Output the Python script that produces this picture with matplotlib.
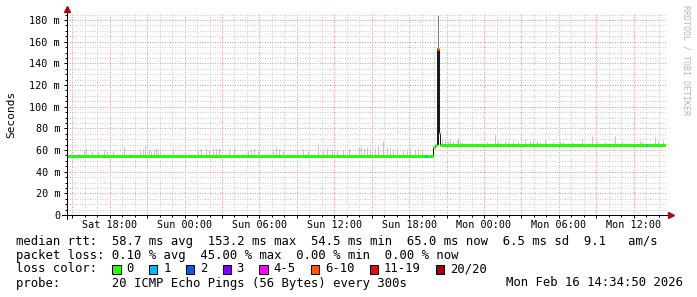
import numpy as np
import matplotlib
matplotlib.use("Agg")
import matplotlib.pyplot as plt
import matplotlib.dates as mdates
from matplotlib.patches import Rectangle
from matplotlib.ticker import MultipleLocator, FuncFormatter

plt.rcParams['font.family'] = ['DejaVu Sans Mono']

#%% Data (hours counted from Sat 14 Feb 2026 00:00, values in ms)
t_start_h = 14.58          # Sat 14:34:50
t_end_h = 62.58            # Mon 14:34:50

# median rtt, as steps: start hour, end hour, value, loss class
med_start = [14.58, 43.94, 44.10, 44.26, 44.42, 44.50]
med_end   = [43.94, 44.10, 44.26, 44.42, 44.50, 62.58]
med_val   = [54.7, 63.0, 64.6, 153.5, 76.0, 64.6]
med_loss  = [0, 0, 0, 5, 1, 0]

# single samples with one lost ping
loss1_h   = [43.30, 61.00]
loss1_val = [54.7, 64.6]

# smoke: sample hour, median under it, top of the smoke
smoke_h = [15.92, 16.08, 16.56, 17.04, 17.52, 17.76, 18.24, 19.12, 20.40, 20.64,
           20.80, 21.12, 21.28, 21.52, 21.68, 21.84, 22.00, 23.04, 25.05, 25.29,
           25.69, 25.93, 26.25, 26.49, 26.73, 27.53, 27.93, 29.05, 29.29, 29.53,
           29.85, 31.05, 31.29, 31.53, 31.85, 33.05, 33.53, 33.93, 34.73, 35.13,
           35.45, 35.85, 36.25, 36.73, 37.14, 37.94, 38.10, 38.34, 38.66, 38.90,
           39.30, 39.54, 39.94, 40.26, 40.50, 40.74, 41.06, 41.54, 41.86, 42.10,
           42.50, 42.74, 43.06,
           44.50, 44.66, 44.90, 45.14, 45.30, 45.54, 45.86, 45.94, 46.10, 46.26,
           48.26, 48.90, 49.14, 49.71, 49.95, 50.35, 50.75, 51.31, 51.71, 51.95,
           52.27, 52.51, 52.91, 53.55, 54.11, 54.35, 55.07, 55.87, 56.67, 57.07,
           57.71, 58.51, 59.07, 60.51, 60.67, 61.71, 61.95, 62.35]
smoke_top = [60, 62, 59, 59, 60, 59, 59, 63, 60, 61,
             65, 60, 59, 60, 62, 61, 60, 61, 60, 61,
             62, 60, 62, 61, 62, 60, 62, 60, 61, 62,
             60, 61, 63, 61, 60, 60, 61, 60, 66, 61,
             62, 60, 61, 60, 61, 63, 64, 62, 63, 61,
             62, 64, 68, 63, 62, 61, 62, 60, 61, 62,
             60, 61, 60,
             72, 71, 70, 68, 70, 68, 69, 71, 68, 67,
             67, 74, 68, 68, 67, 69, 68, 70, 68, 69,
             68, 67, 69, 67, 68, 67, 67, 70, 73, 68,
             67, 73, 68, 68, 67, 72, 68, 69]
smoke_base = [54.7] * 63 + [64.6] * 38

# the spike sample
spike_h = 44.34
spike_dense = (64.6, 153.5)
spike_max = 185.0

loss_colors = ['#26ff00', '#00b8ff', '#0059ff', '#7e00ff', '#ff00ff',
               '#ff5500', '#ff0000', '#a10000']
loss_labels = ['0', '1', '2', '3', '4-5', '6-10', '11-19', '20/20']

#%% helpers
base = np.datetime64('2026-02-14T00:00:00')
def h2d(h):
    h = np.asarray(h, dtype=float)
    return mdates.date2num(base + (h * 3600).astype('int64').astype('timedelta64[s]'))

W, H = 697, 297
fig = plt.figure(figsize=(W / 100, H / 100), dpi=100)
fig.patch.set_facecolor('white')
ax_l, ax_r, ax_t, ax_b = 67, 666, 13, 215
ax = fig.add_axes([ax_l / W, 1 - ax_b / H, (ax_r - ax_l) / W, (ax_b - ax_t) / H])

px = 0.72  # one pixel in points

# smoke
ax.vlines(h2d(smoke_h), smoke_base, smoke_top, color='#c4c4c4', lw=px, zorder=2)

# spike
ax.vlines(h2d([spike_h]), spike_dense[1], spike_max, color='#808080', lw=px, zorder=3)
ax.vlines(h2d([spike_h]), spike_dense[0], spike_dense[1], color='#1a1a1a', lw=2 * px, zorder=3)

# median connectors then median steps
for i in range(len(med_val) - 1):
    ax.vlines(h2d([med_end[i]]), min(med_val[i], med_val[i + 1]), max(med_val[i], med_val[i + 1]),
              color='#1a1a1a', lw=px, zorder=4)
for s, e, v, l in zip(med_start, med_end, med_val, med_loss):
    ax.hlines(v, h2d(s), h2d(e), color=loss_colors[l], lw=3 * px, zorder=5)
for h, v in zip(loss1_h, loss1_val):
    ax.hlines(v, h2d(h), h2d(h + 0.09), color=loss_colors[1], lw=3 * px, zorder=6)

ax.set_xlim(h2d(t_start_h), h2d(t_end_h))
ax.set_ylim(0, 186.5)

# axes styling
for sp in ax.spines.values():
    sp.set_visible(False)
ax.set_axisbelow(True)
ax.xaxis.set_major_locator(mdates.HourLocator(byhour=[0, 3, 6, 9, 12, 15, 18, 21]))
ax.xaxis.set_minor_locator(mdates.HourLocator())
ax.xaxis.set_major_formatter(FuncFormatter(
    lambda v, p: mdates.num2date(v).strftime('%a %H:%M') if mdates.num2date(v).hour % 6 == 0 else ''))
ax.yaxis.set_major_locator(MultipleLocator(20))
ax.yaxis.set_minor_locator(MultipleLocator(5))
ax.yaxis.set_major_formatter(FuncFormatter(lambda v, p: '0' if v == 0 else f'{v:.0f} m'))

ax.grid(which='major', color='#e99494', lw=px, linestyle=(0, (1, 1.5)))
ax.grid(which='minor', color='#cdcdcd', lw=px, linestyle=(0, (1, 1.5)))
ax.tick_params(axis='both', which='major', labelsize=7.3, color='black', width=px)
ax.tick_params(axis='y', which='major', length=3.5 * px, pad=2.5)
ax.tick_params(axis='y', which='minor', length=2 * px, width=px)
ax.tick_params(axis='x', which='major', length=3 * px, pad=1.5)
ax.tick_params(axis='x', which='minor', length=1.5 * px, width=px)

# axis lines with arrows
aw, ah = ax_r - ax_l, ax_b - ax_t
ax.plot([0, 0], [-4 / ah, (ax_b - 9) / ah], color='black', lw=px, transform=ax.transAxes, clip_on=False, zorder=7)
ax.plot([-5 / aw, (672 - ax_l) / aw], [0, 0], color='black', lw=px, transform=ax.transAxes, clip_on=False, zorder=7)
ax.plot([0], [(ax_b - 9) / ah], marker='^', ms=4.5, color='#a01010', mec='#a01010',
        transform=ax.transAxes, clip_on=False, zorder=8)
ax.plot([(671 - ax_l) / aw], [0], marker='>', ms=4.5, color='#a01010', mec='#a01010',
        transform=ax.transAxes, clip_on=False, zorder=8)

fig.text(11 / W, 1 - 114 / H, 'Seconds', rotation=90, ha='center', va='center', fontsize=8)
fig.text(686 / W, 1 - 60 / H, 'RRDTOOL / TOBI OETIKER', rotation=270, ha='center', va='center',
         fontsize=6, color='#b5b5b5')

#%% legend
fs = 8.8
cw = 0.602 * fs * 100 / 72   # monospace advance in px
x0 = 16
rows_y = [241, 255, 269, 283]
def ftext(col, row, s, **kw):
    fig.text((x0 + col * cw) / W, 1 - rows_y[row] / H, s, fontsize=fs, va='center', ha='left', **kw)

ftext(0, 0, 'median rtt:  58.7 ms avg  153.2 ms max  54.5 ms min  65.0 ms now  6.5 ms sd  9.1   am/s')
ftext(0, 1, 'packet loss: 0.10 % avg  45.00 % max  0.00 % min  0.00 % now')
ftext(0, 2, 'loss color:')
col = 13
for c, lab in zip(loss_colors, loss_labels):
    bx = x0 + col * cw + 0.5
    fig.patches.append(Rectangle((bx / W, 1 - (rows_y[2] + 4.5) / H), 8.5 / W, 9 / H,
                                 transform=fig.transFigure, facecolor=c, edgecolor='black', lw=px))
    ftext(col + 2, 2, lab)
    col += 2 + len(lab) + 2
ftext(0, 3, 'probe:       20 ICMP Echo Pings (56 Bytes) every 300s')
fig.text((W - 14) / W, 1 - rows_y[3] / H, 'Mon Feb 16 14:34:50 2026', fontsize=fs, va='center', ha='right')

fig.savefig('out.png', dpi=100, facecolor='white')
